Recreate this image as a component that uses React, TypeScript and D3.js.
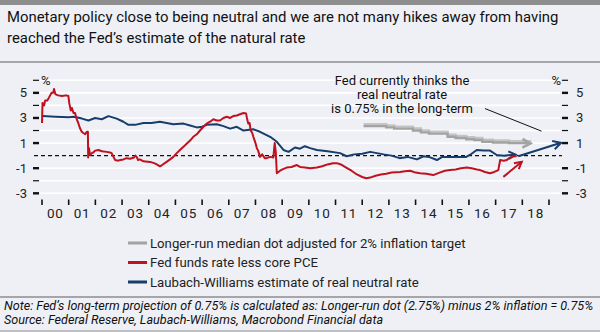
import React from "react";
import * as d3 from "d3";

const W = 600;
const H = 332;

const titleLines = [
  "Monetary policy close to being neutral and we are not many hikes away from having",
  "reached the Fed\u2019s estimate of the natural rate",
];
const noteLines = [
  "Note: Fed\u2019s long-term projection of 0.75% is calculated as: Longer-run dot (2.75%) minus 2% inflation = 0.75%",
  "Source: Federal Reserve, Laubach-Williams, Macrobond Financial data",
];
const annotationLines = ["Fed currently thinks the", "real neutral rate", "is 0.75% in the long-term"];
const legendLabels = [
  "Longer-run median dot adjusted for 2% inflation target",
  "Fed funds rate less core PCE",
  "Laubach-Williams estimate of real neutral rate",
];
const yearLabels = ["00","01","02","03","04","05","06","07","08","09","10","11","12","13","14","15","16","17","18"];
const yTickValues = [6, 5, 4, 3, 2, 1, 0, -1, -2, -3];
const yLabelValues = [5, 3, 1, -1, -3];

// Fed funds rate less core PCE
const redYears = [2000.0,2000.02,2000.08,2000.12,2000.2,2000.28,2000.36,2000.42,2000.45,2000.5,2000.6,2000.75,2000.9,2000.99,2001.02,2001.08,2001.12,2001.18,2001.24,2001.3,2001.36,2001.42,2001.49,2001.55,2001.62,2001.68,2001.72,2001.73,2001.76,2001.8,2001.87,2001.92,2002.0,2002.11,2002.25,2002.42,2002.55,2002.61,2002.68,2002.74,2002.85,2002.93,2003.05,2003.17,2003.3,2003.45,2003.5,2003.55,2003.6,2003.67,2003.8,2004.05,2004.2,2004.3,2004.42,2004.5,2004.67,2004.8,2004.92,2005.05,2005.17,2005.3,2005.42,2005.55,2005.67,2005.8,2005.92,2006.05,2006.17,2006.3,2006.42,2006.55,2006.67,2006.8,2006.92,2007.05,2007.17,2007.3,2007.42,2007.55,2007.65,2007.68,2007.73,2007.78,2007.82,2007.88,2007.92,2007.97,2008.0,2008.05,2008.1,2008.17,2008.25,2008.35,2008.42,2008.55,2008.67,2008.72,2008.76,2008.8,2008.86,2008.92,2009.05,2009.17,2009.35,2009.55,2009.67,2009.85,2010.05,2010.3,2010.5,2010.7,2010.9,2011.05,2011.2,2011.4,2011.6,2011.8,2012.0,2012.15,2012.3,2012.5,2012.7,2012.9,2013.1,2013.42,2013.6,2013.8,2014.0,2014.17,2014.4,2014.66,2014.9,2015.1,2015.29,2015.5,2015.7,2015.92,2016.1,2016.3,2016.42,2016.6,2016.79,2016.95,2017.1,2017.17,2017.3,2017.42,2017.5,2017.6,2017.7,2017.79];
const redValues = [2.6,4.2,4.0,4.4,4.4,4.7,5.0,5.0,5.3,4.9,4.8,4.75,4.8,4.75,4.2,3.6,3.8,3.4,3.4,2.9,2.6,2.2,1.9,1.8,1.7,1.9,1.9,-0.15,0.6,0.05,0.2,0.25,0.4,0.45,0.35,0.3,0.25,0.2,-0.1,-0.35,-0.4,-0.35,-0.3,-0.2,-0.25,-0.15,0.0,-0.1,-0.35,-0.3,-0.45,-0.5,-0.6,-0.7,-0.85,-0.75,-0.5,-0.3,-0.1,0.2,0.45,0.7,0.95,1.2,1.5,1.7,2.0,2.3,2.55,2.7,2.9,2.8,2.8,3.0,3.1,3.0,3.15,3.2,3.3,3.4,3.35,3.0,2.55,2.6,2.0,1.8,1.5,1.2,1.0,0.6,0.4,-0.1,0.1,-0.2,-0.2,-0.1,-0.15,1.0,0.3,-1.4,-1.3,-1.2,-1.05,-0.95,-0.9,-0.75,-0.9,-0.95,-1.0,-0.95,-0.85,-0.7,-0.6,-0.6,-0.7,-0.95,-1.2,-1.5,-1.7,-1.8,-1.75,-1.6,-1.5,-1.45,-1.35,-1.3,-1.25,-1.2,-1.35,-1.4,-1.45,-1.55,-1.35,-1.2,-1.15,-1.1,-1.0,-0.95,-1.0,-1.1,-1.15,-1.3,-1.4,-1.3,-1.15,-0.35,-0.4,-0.35,-0.2,-0.1,-0.05,-0.05];

// Laubach-Williams estimate
const blueYears = [2000.0,2000.5,2001.0,2001.2,2001.5,2001.74,2001.99,2002.24,2002.49,2002.8,2003.05,2003.24,2003.49,2003.8,2004.1,2004.42,2004.92,2005.3,2005.55,2005.8,2006.0,2006.17,2006.55,2006.8,2007.05,2007.3,2007.55,2007.92,2008.17,2008.55,2008.8,2009.05,2009.24,2009.48,2009.67,2009.85,2010.05,2010.3,2010.7,2011.17,2011.42,2011.7,2012.0,2012.3,2012.55,2012.8,2013.1,2013.4,2013.7,2014.05,2014.3,2014.5,2014.8,2015.0,2015.17,2015.6,2015.9,2016.1,2016.29,2016.55,2016.79,2017.04,2017.3];
const blueValues = [3.15,3.1,3.05,3.1,2.95,2.8,3.0,2.9,3.15,2.95,2.7,2.45,2.45,2.6,2.6,2.7,2.5,2.55,2.4,2.25,2.3,2.45,2.5,2.35,2.15,2.3,2.0,2.1,1.9,1.5,1.1,0.45,0.3,0.65,0.55,0.75,0.6,0.45,0.35,0.2,-0.05,0.1,0.15,0.3,0.2,0.1,0.0,-0.2,-0.1,-0.3,-0.05,-0.1,-0.35,-0.1,-0.1,-0.1,-0.1,0.15,0.45,0.4,0.4,0.05,0.0];

// Longer-run median dot less 2%
const grayYears = [2012.05,2012.9,2013.2,2013.9,2014.2,2014.5,2015.2,2015.5,2015.9,2016.2,2016.5,2016.9,2017.5,2018.3];
const grayValues = [2.35,2.25,2.15,2.0,1.85,1.75,1.5,1.4,1.3,1.25,1.1,1.05,1.0,0.97];

// Annotation arrows [year, value]
const blueTipYears = [2017.3, 2017.75];
const blueTipValues = [0.0, 0.08];
const navyArrowYears = [2017.85, 2019.45];
const navyArrowValues = [-0.05, 1.02];
const redArrowYears = [2017.29, 2017.98];
const redArrowValues = [-1.69, -0.49];
const leaderYears = [2016.6, 2018.72];
const leaderValues = [3.75, 1.95];

const BG = "#eef0f6";
const RED = "#c0111f";
const NAVY = "#173d6b";
const GRAY = "#a3a3a3";
const FONT = "Roboto, 'DejaVu Sans', sans-serif";

export default function App() {
  const x = d3.scaleLinear().domain([2000, 2019]).range([42, 549]);
  const y = d3.scaleLinear().domain([-3, 6]).range([193.3, 80.3]);

  const toPts = (xs: number[], vs: number[]) => xs.map((t, i) => [t, vs[i]] as [number, number]);
  const line = d3.line<[number, number]>().x((d) => x(d[0])).y((d) => y(d[1]));
  const stepLine = d3
    .line<[number, number]>()
    .x((d) => x(d[0]))
    .y((d) => y(d[1]))
    .curve(d3.curveStepAfter);

  const arrowHead = (pts: [number, number][], size: number) => {
    const a = pts[pts.length - 2];
    const b = pts[pts.length - 1];
    const x1 = x(a[0]), y1 = y(a[1]), x2 = x(b[0]), y2 = y(b[1]);
    const ang = Math.atan2(y2 - y1, x2 - x1);
    const s = 0.5;
    const p1 = [x2 - size * Math.cos(ang - s), y2 - size * Math.sin(ang - s)];
    const p2 = [x2 - size * Math.cos(ang + s), y2 - size * Math.sin(ang + s)];
    return `M${p1[0]},${p1[1]}L${x2},${y2}L${p2[0]},${p2[1]}`;
  };

  const redPts = toPts(redYears, redValues);
  const bluePts = toPts(blueYears, blueValues);
  const grayPts = toPts(grayYears, grayValues);
  const blueTip = toPts(blueTipYears, blueTipValues);
  const navyArrow = toPts(navyArrowYears, navyArrowValues);
  const redArrow = toPts(redArrowYears, redArrowValues);
  const leader = toPts(leaderYears, leaderValues);

  const ticksX = d3.range(2000, 2020);

  return (
    <svg width={W} height={H} style={{ position: "absolute", left: 0, top: 0, display: "block" }} fontFamily={FONT}>
      <rect x={0} y={0} width={W} height={H} fill={BG} />
      <rect x={0} y={0} width={W} height={5} fill="#8e8e8e" />
      {titleLines.map((t, i) => (
        <text key={i} x={7} y={22 + i * 21} fontSize={14.9} fill="#111">
          {t}
        </text>
      ))}
      <line x1={0} x2={W} y1={62} y2={62} stroke="#8e8e8e" strokeWidth={1.5} />

      {/* gridlines */}
      {yTickValues.filter((v) => v !== 0).map((v) => (
        <line key={v} x1={40} x2={560} y1={y(v)} y2={y(v)} stroke="#ffffff" strokeWidth={1.6} />
      ))}
      <line x1={34} x2={562} y1={y(0)} y2={y(0)} stroke="#111" strokeWidth={1.2} strokeDasharray="4,3" />

      {/* y ticks */}
      {yTickValues.filter((v) => v !== 0).map((v) => {
        const major = yLabelValues.includes(v);
        return (
          <g key={v}>
            <line x1={33} x2={39} y1={y(v)} y2={y(v)} stroke="#111" strokeWidth={major ? 2.4 : 1.2} />
            <line x1={562} x2={568} y1={y(v)} y2={y(v)} stroke="#111" strokeWidth={major ? 2.4 : 1.2} />
          </g>
        );
      })}
      {yLabelValues.map((v) => (
        <g key={v}>
          <text x={27} y={y(v) + 4.5} fontSize={13} textAnchor="end" fill="#222">
            {v}
          </text>
          <text x={576} y={y(v) + 4.5} fontSize={13} textAnchor="start" fill="#222">
            {v}
          </text>
        </g>
      ))}
      <text x={41} y={y(6) + 4.5} fontSize={13} fill="#222">%</text>
      <text x={561} y={y(6) + 4.5} fontSize={13} textAnchor="end" fill="#222">%</text>

      {/* x ticks */}
      {ticksX.map((t) => (
        <line key={t} x1={x(t)} x2={x(t)} y1={199.5} y2={205} stroke="#111" strokeWidth={1.6} />
      ))}
      {yearLabels.map((lab, i) => (
        <text key={lab} x={x(2000 + i + 0.5)} y={218} fontSize={13.5} textAnchor="middle" fill="#222" letterSpacing={0.8}>
          {lab}
        </text>
      ))}

      {/* gray longer-run dot */}
      <path d={stepLine(grayPts) || ""} fill="none" stroke="#c4c4c4" strokeWidth={2.4} transform="translate(0,-2)" />
      <path d={stepLine(grayPts) || ""} fill="none" stroke={GRAY} strokeWidth={2.4} />
      <path d={arrowHead(grayPts, 9)} fill="none" stroke={GRAY} strokeWidth={2.6} />

      {/* blue series */}
      <path d={line(bluePts) || ""} fill="none" stroke={NAVY} strokeWidth={2} strokeLinejoin="round" />
      <path d={line(blueTip) || ""} fill="none" stroke={NAVY} strokeWidth={2} />
      <path d={arrowHead(blueTip, 8)} fill="none" stroke={NAVY} strokeWidth={2} />

      {/* red series */}
      <path d={line(redPts) || ""} fill="none" stroke={RED} strokeWidth={2} strokeLinejoin="round" />
      <path d={line(redArrow) || ""} fill="none" stroke={RED} strokeWidth={2} />
      <path d={arrowHead(redArrow, 8)} fill="none" stroke={RED} strokeWidth={2} />

      {/* navy arrow to long term */}
      <path d={line(navyArrow) || ""} fill="none" stroke={NAVY} strokeWidth={2} />
      <path d={arrowHead(navyArrow, 9)} fill="none" stroke={NAVY} strokeWidth={2} />

      {/* annotation */}
      {annotationLines.map((t, i) => (
        <text key={i} x={402} y={84.5 + i * 14.2} fontSize={13} textAnchor="middle" fill="#111">
          {t}
        </text>
      ))}
      <path d={line(leader) || ""} fill="none" stroke="#111" strokeWidth={1} />

      {/* legend */}
      {legendLabels.map((t, i) => {
        const cy = 243 + i * 19.5;
        const c = [GRAY, RED, NAVY][i];
        return (
          <g key={i}>
            <line x1={128} x2={147} y1={cy} y2={cy} stroke={c} strokeWidth={3} />
            <text x={150} y={cy + 4.5} fontSize={13.2} fill="#222">
              {t}
            </text>
          </g>
        );
      })}

      <line x1={0} x2={W} y1={297} y2={297} stroke="#8e8e8e" strokeWidth={1.5} />
      {noteLines.map((t, i) => (
        <text key={i} x={4} y={310 + i * 14} fontSize={12.6} fontStyle="italic" fill="#111">
          {t}
        </text>
      ))}
      <line x1={0} x2={W} y1={331} y2={331} stroke="#8e8e8e" strokeWidth={1.2} />
    </svg>
  );
}
